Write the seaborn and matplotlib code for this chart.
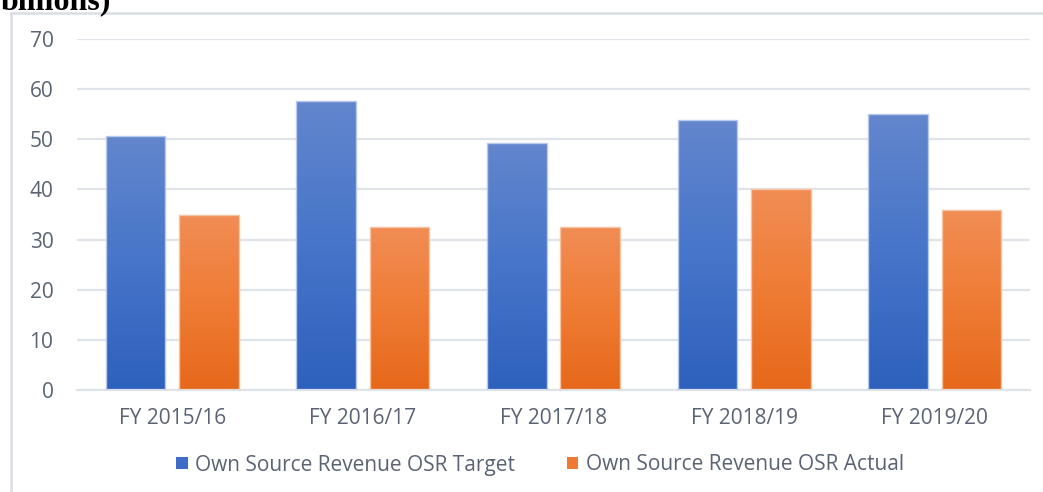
import numpy as np
import pandas as pd
import matplotlib
matplotlib.use("Agg")
import matplotlib.pyplot as plt
import seaborn as sns
from matplotlib.colors import LinearSegmentedColormap
from matplotlib.patches import Patch
from matplotlib.lines import Line2D

categories = ["FY 2015/16", "FY 2016/17", "FY 2017/18", "FY 2018/19", "FY 2019/20"]
target = [50.6, 57.7, 49.3, 53.8, 55.0]
actual = [34.9, 32.5, 32.5, 40.1, 35.8]
series_names = ["Own Source Revenue OSR Target", "Own Source Revenue OSR Actual"]
yticks = [0, 10, 20, 30, 40, 50, 60, 70]
title_fragment = "billions)"

df = pd.DataFrame({
    "Year": categories * 2,
    "Value": target + actual,
    "Series": [series_names[0]] * len(categories) + [series_names[1]] * len(categories),
})

sns.set_theme(style="white")
plt.rcParams["font.family"] = ["Open Sans", "DejaVu Sans"]

fig = plt.figure(figsize=(10.43, 4.92), dpi=100)
ax = fig.add_axes([77 / 1043, 1 - 390 / 492, (1030 - 77) / 1043, (390 - 39) / 492])

mid_colors = ["#3f6cc6", "#ee7a33"]
sns.barplot(data=df, x="Year", y="Value", hue="Series", palette=mid_colors,
            width=0.77, gap=0.19, ax=ax, legend=False, zorder=2)

grads = {
    0: LinearSegmentedColormap.from_list("b", ["#2e61bd", "#4675c9", "#6386cd"]),
    1: LinearSegmentedColormap.from_list("o", ["#e6681a", "#ef7c35", "#f18d55"]),
}
edges = {0: "#b8c9ec", 1: "#f6c3a3"}
grad_img = np.linspace(0, 1, 256).reshape(-1, 1)
ncat = len(categories)
for i, p in enumerate(list(ax.patches)):
    s = i // ncat
    x0, y0 = p.get_x(), p.get_y()
    w, h = p.get_width(), p.get_height()
    p.set_facecolor("none")
    p.set_edgecolor(edges[s])
    p.set_linewidth(1.0)
    p.set_zorder(3)
    im = ax.imshow(grad_img, cmap=grads[s], origin="lower", aspect="auto",
                   extent=[x0, x0 + w, y0, y0 + h], zorder=2.5, interpolation="bilinear")
    im.set_clip_path(p)

ax.set_xlim(-0.5, ncat - 0.5)
ax.set_ylim(0, 70)
ax.set_yticks(yticks)
ax.set_yticklabels([str(v) for v in yticks])
ax.set_xlabel("")
ax.set_ylabel("")
ax.grid(axis="y", color="#dfe3ea", linewidth=1.6, zorder=0)
ax.set_axisbelow(True)
for sp in ["top", "right", "left"]:
    ax.spines[sp].set_visible(False)
ax.spines["bottom"].set_color("#dfe3ea")
ax.spines["bottom"].set_linewidth(1.6)
ax.tick_params(axis="both", length=0, labelsize=15, labelcolor="#5a6373")
ax.tick_params(axis="y", pad=17)
ax.tick_params(axis="x", pad=13)

handles = [Patch(facecolor=mid_colors[0], edgecolor="none"),
           Patch(facecolor=mid_colors[1], edgecolor="none")]
leg = fig.legend(handles, series_names, loc="center", bbox_to_anchor=(540 / 1043, 1 - 465 / 492),
                 ncol=2, frameon=False, fontsize=15, handlelength=0.55, handleheight=0.55,
                 handletextpad=0.35, columnspacing=2.5)
for t in leg.get_texts():
    t.set_color("#5a6373")

# chart-area border (top and left edges visible)
fig.add_artist(Line2D([11 / 1043, 1.0], [1 - 13 / 492, 1 - 13 / 492], transform=fig.transFigure,
                      color="#d9dde4", linewidth=1.8))
fig.add_artist(Line2D([11 / 1043, 11 / 1043], [0, 1 - 13 / 492], transform=fig.transFigure,
                      color="#d9dde4", linewidth=1.8))

fig.text(1 / 1043, 1 - 9.5 / 492, title_fragment, fontsize=23, fontweight="bold",
         family="Liberation Serif", color="black", ha="left", va="baseline")

fig.savefig("out.png", dpi=100)
